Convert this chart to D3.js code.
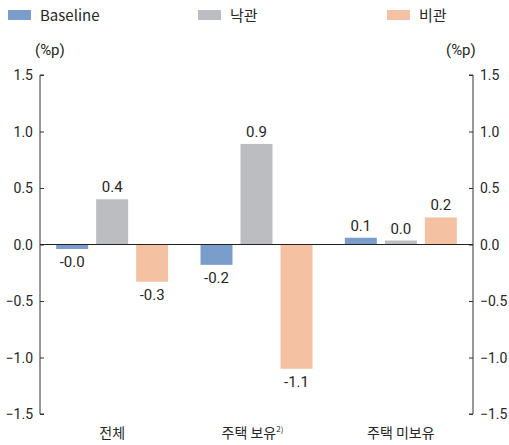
<!DOCTYPE html>
<html><head><meta charset="utf-8">
<script src="https://cdn.jsdelivr.net/npm/d3@7"></script>
<style>
body{margin:0;background:#fff;}
text{font-family:Roboto,"Noto Sans CJK KR",sans-serif;fill:#262626;}
</style></head>
<body><svg id="c" width="509" height="445"></svg>
<script>
const categories = ["전체", "주택 보유", "주택 미보유"];
const seriesNames = ["Baseline", "낙관", "비관"];
const baseline = [-0.04, -0.18, 0.06];
const optimistic = [0.40, 0.89, 0.035];
const pessimistic = [-0.33, -1.10, 0.24];
const labelText = [["-0.0","-0.2","0.1"],["0.4","0.9","0.0"],["-0.3","-1.1","0.2"]];
const yTicks = [1.5, 1.0, 0.5, 0.0, -0.5, -1.0, -1.5];
const colors = ["#7b9dcc", "#bcbdc1", "#f4c2a2"];

const series = [baseline, optimistic, pessimistic];
const svg = d3.select("#c");
const L = 40, R = 473, T = 75, B = 414;
const y = d3.scaleLinear().domain([-1.5, 1.5]).range([B, T]);
const x0 = d3.scaleBand().domain(categories).range([L, R]);
const x1 = d3.scaleBand().domain(seriesNames).range([0, 112]).paddingInner(0.2);

// axes
const fmt = d3.format(".1f");
const la = svg.append("g").attr("transform", `translate(${L},0)`)
  .call(d3.axisRight(y).tickValues(yTicks).tickSize(4).tickFormat(fmt));
la.selectAll(".tick text").attr("x", -7).attr("text-anchor", "end");
const ra = svg.append("g").attr("transform", `translate(${R},0)`)
  .call(d3.axisLeft(y).tickValues(yTicks).tickSize(4).tickFormat(fmt));
ra.selectAll(".tick text").attr("x", 7).attr("text-anchor", "start");
[la, ra].forEach(a => {
  a.select(".domain").attr("stroke", "#333").attr("stroke-width", 1);
  a.selectAll(".tick line").attr("stroke", "#333");
  a.selectAll(".tick text").style("font-size", "14px").attr("fill", "#262626");
  a.selectAll(".tick text").attr("dy", "0.35em");
});
la.select(".domain").attr("d", `M4,${T}H0V${B}H4`);
ra.select(".domain").attr("d", `M-4,${T}H0V${B}H-4`);

// bars
series.forEach((vals, si) => {
  const g = svg.append("g");
  g.selectAll("rect").data(vals).join("rect")
    .attr("x", (d, i) => x0(categories[i]) + (x0.bandwidth() - 112) / 2 + x1(seriesNames[si]))
    .attr("width", x1.bandwidth())
    .attr("y", d => y(Math.max(0, d)))
    .attr("height", d => Math.abs(y(d) - y(0)))
    .attr("fill", colors[si]);
  g.selectAll("text").data(vals).join("text")
    .attr("x", (d, i) => x0(categories[i]) + (x0.bandwidth() - 112) / 2 + x1(seriesNames[si]) + x1.bandwidth() / 2)
    .attr("y", d => d >= 0 ? y(d) - 7 : y(d) + 18)
    .attr("text-anchor", "middle")
    .style("font-size", "15px")
    .text((d, i) => labelText[si][i]);
});

// zero line
svg.append("line").attr("x1", L).attr("x2", R).attr("y1", y(0)).attr("y2", y(0))
  .attr("stroke", "#222").attr("stroke-width", 1.2);

// category labels
const cl = svg.append("g");
categories.forEach((c, i) => {
  const t = cl.append("text").attr("x", x0(c) + x0.bandwidth() / 2 + (i === 1 ? -4 : 0)).attr("y", 438)
    .attr("text-anchor", "middle").style("font-size", "14px").style("font-weight", "400")
    .style("font-family", "'Noto Sans CJK KR',sans-serif").text(c);
  if (i === 1) t.append("tspan").attr("dy", -6).style("font-size", "8px").text("2)");
});

// units
svg.append("text").attr("x", 35).attr("y", 55).style("font-size", "15px").text("(%p)");
svg.append("text").attr("x", 446).attr("y", 55).style("font-size", "15px").text("(%p)");

// legend
const legX = [8, 198, 387];
seriesNames.forEach((s, i) => {
  svg.append("rect").attr("x", legX[i]).attr("y", 10).attr("width", 23).attr("height", 10).attr("fill", colors[i]);
  svg.append("text").attr("x", legX[i] + 32).attr("y", 21).style("font-size", "15px")
    .style("font-family", "'Noto Sans CJK KR',sans-serif").text(s);
});
</script></body></html>
